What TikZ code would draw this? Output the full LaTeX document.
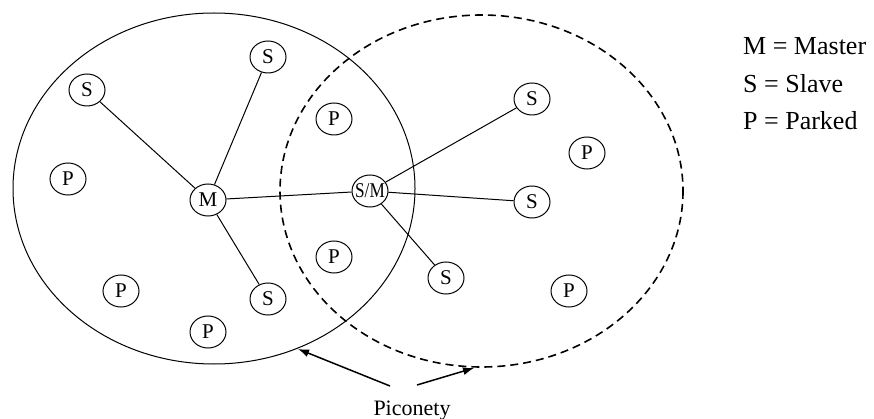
\documentclass[tikz,border=0pt]{standalone}
\usepackage{fontspec}
\setmainfont{Liberation Serif}
\usetikzlibrary{shapes.geometric,arrows.meta}
\begin{document}
\begin{tikzpicture}[x=1pt,y=-1pt,
  dev/.style={draw, ellipse, line width=1pt, minimum width=36pt, minimum height=32pt, inner sep=0pt, font=\fontsize{21}{21}\selectfont},
  link/.style={line width=1pt},
  leg/.style={anchor=base west, font=\fontsize{26}{26}\selectfont, inner sep=0pt},
  ptr/.style={line width=1.5pt, -{Latex[length=11pt,width=8pt]}}]
\useasboundingbox (0,0) rectangle (874,419);
% piconets
\draw[line width=1pt] (214,188.5) ellipse [x radius=201, y radius=175.5];
\draw[line width=1.6pt, dash pattern=on 8pt off 5pt] (481.5,191) ellipse [x radius=201.5, y radius=176];
% devices
\node[dev] (m)   at (208,200) {M};
\node[dev] (sm)  at (370,191) {\makebox[0pt]{\scalebox{0.82}[1]{S/M}}};
\node[dev] (s1)  at (268,57)  {S};
\node[dev] (s2)  at (87,90)   {S};
\node[dev] (s3)  at (268,299) {S};
\node[dev] (s4)  at (532,99)  {S};
\node[dev] (s5)  at (532,202) {S};
\node[dev] (s6)  at (446,278) {S};
\node[dev] (p1)  at (68,179)  {P};
\node[dev] (p2)  at (121,291) {P};
\node[dev] (p3)  at (208,332) {P};
\node[dev] (p4)  at (334,119) {P};
\node[dev] (p5)  at (334,257) {P};
\node[dev] (p6)  at (587,153) {P};
\node[dev] (p7)  at (569,291) {P};
% links
\draw[link] (m) -- (s1);
\draw[link] (m) -- (s2);
\draw[link] (m) -- (s3);
\draw[link] (m) -- (sm);
\draw[link] (sm) -- (s4);
\draw[link] (sm) -- (s5);
\draw[link] (sm) -- (s6);
% legend
\node[leg] (l1) at (743,55)  {M = Master};
\node[leg] (l2) at (743,93)  {S = Slave};
\node[leg] (l3) at (743,130) {P = Parked};
% label and pointers
\node[font=\fontsize{22}{22}\selectfont, inner sep=0pt, anchor=base] (pic) at (412,415) {Piconety};
\coordinate (a1) at (390,386);
\coordinate (t1) at (298,349);
\coordinate (a2) at (417,385);
\coordinate (t2) at (474,368);
\draw[ptr] (a1) -- (t1);
\draw[ptr] (a2) -- (t2);
\end{tikzpicture}
\end{document}
